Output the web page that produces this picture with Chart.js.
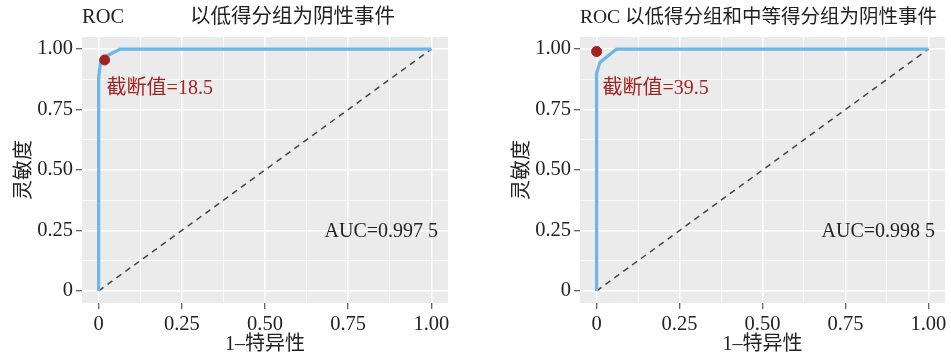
<!DOCTYPE html>
<html>
<head>
<meta charset="utf-8">
<script src="https://cdn.jsdelivr.net/npm/chart.js@4/dist/chart.umd.min.js"></script>
<style>
  body { margin: 0; background: #fff; }
  #wrap { position: relative; width: 951px; height: 361px; }
  .box { position: absolute; top: 0; height: 361px; }
</style>
</head>
<body>
<div id="wrap">
  <div class="box" style="left:0;width:460px"><canvas id="rocLow"></canvas></div>
  <div class="box" style="left:498px;width:453px"><canvas id="rocMid"></canvas></div>
</div>
<script>
// grid / tick values (majors get labels, minors only grid)
const tickValues = [0, 0.125, 0.25, 0.375, 0.5, 0.625, 0.75, 0.875, 1];
const majorTicks = [0, 0.25, 0.5, 0.75, 1];

// reference diagonal
const diagX = [0, 1];
const diagY = [0, 1];

// low score group as negative
const fprLow = [0, 0, 0.005, 0.015, 0.065, 1];
const tprLow = [0, 0.88, 0.94, 0.965, 1, 1];
const cutLowX = [0.018];
const cutLowY = [0.955];

// low + middle score group as negative
const fprMid = [0, 0, 0.01, 0.06, 1];
const tprMid = [0, 0.9, 0.945, 1, 1];
const cutMidX = [0];
const cutMidY = [0.99];

const SERIF = '"Liberation Serif", "Noto Sans CJK SC", serif';
const pts = (xs, ys) => xs.map((x, i) => ({x: x, y: ys[i]}));
const isMajor = v => majorTicks.some(m => Math.abs(m - v) < 1e-9);
const fmt = v => v === 0 ? '0' : v.toFixed(2);

// grey panel + texts
const panelPlugin = {
  id: 'panel',
  beforeDraw(chart) {
    const a = chart.chartArea, c = chart.ctx;
    c.save();
    c.fillStyle = '#ebebeb';
    c.fillRect(a.left, a.top, a.right - a.left, a.bottom - a.top);
    c.restore();
  },
  afterDraw(chart, args, o) {
    const c = chart.ctx, xs = chart.scales.x, ys = chart.scales.y;
    c.save();
    c.textBaseline = 'middle';
    // titles
    c.fillStyle = '#222';
    o.titles.forEach(t => {
      c.font = t.size + 'px ' + SERIF;
      c.textAlign = 'left';
      c.fillText(t.text, t.x, 18);
    });
    // cutoff label
    c.font = '20px ' + SERIF;
    c.fillStyle = '#a3241f';
    c.textAlign = 'left';
    c.fillText(o.cutText, xs.getPixelForValue(o.cutPos[0]), ys.getPixelForValue(o.cutPos[1]));
    // AUC
    c.font = '20px ' + SERIF;
    c.fillStyle = '#222';
    c.textAlign = 'right';
    c.fillText(o.aucText, xs.getPixelForValue(o.aucPos[0]), ys.getPixelForValue(o.aucPos[1]));
    c.restore();
  }
};

function axis(title, horizontal) {
  return {
    type: 'linear',
    min: -0.05,
    max: 1.05,
    afterBuildTicks: s => { s.ticks = tickValues.map(v => ({value: v})); },
    afterFit: s => { if (horizontal) s.height = 58; else s.width = 82; },
    border: { display: false },
    grid: {
      color: '#ffffff',
      lineWidth: ctx => isMajor(ctx.tick.value) ? 1.5 : 0.7,
      tickColor: ctx => isMajor(ctx.tick.value) ? '#333' : 'rgba(0,0,0,0)',
      tickLength: 6,
      tickWidth: 1
    },
    ticks: {
      autoSkip: false,
      maxRotation: 0,
      padding: 3,
      color: '#222',
      font: { family: SERIF, size: 20.5 },
      callback: v => isMajor(v) ? fmt(v) : ''
    },
    title: {
      display: true,
      text: title,
      color: '#222',
      font: { family: SERIF, size: 20 },
      padding: horizontal ? { top: 0, bottom: 4 } : { top: 13, bottom: 0 }
    }
  };
}

function makeChart(id, fpr, tpr, cx, cy, opts, padRight) {
  return new Chart(document.getElementById(id), {
    type: 'scatter',
    data: {
      datasets: [
        {
          data: pts(cx, cy),
          pointRadius: 5,
          pointBackgroundColor: '#a3211e',
          pointBorderColor: '#a3211e',
          showLine: false
        },
        {
          data: pts(fpr, tpr),
          showLine: true,
          borderColor: '#6db6e6',
          borderWidth: 3.2,
          pointRadius: 0,
          tension: 0
        },
        {
          data: pts(diagX, diagY),
          showLine: true,
          borderColor: '#444',
          borderWidth: 1.5,
          borderDash: [6, 5],
          pointRadius: 0
        }
      ]
    },
    options: {
      responsive: true,
      maintainAspectRatio: false,
      animation: false,
      layout: { padding: { top: 37, right: padRight, left: 0, bottom: 0 } },
      plugins: {
        legend: { display: false },
        tooltip: { enabled: false },
        panel: opts
      },
      scales: {
        x: axis('1–特异性', true),
        y: axis('灵敏度', false)
      }
    },
    plugins: [panelPlugin]
  });
}

makeChart('rocLow', fprLow, tprLow, cutLowX, cutLowY, {
  titles: [{text: 'ROC', x: 82, size: 20.5}, {text: '以低得分组为阴性事件', x: 190, size: 20.5}],
  cutText: '截断值=18.5', cutPos: [0.024, 0.835],
  aucText: 'AUC=0.997 5', aucPos: [1.02, 0.243]
}, 12);

makeChart('rocMid', fprMid, tprMid, cutMidX, cutMidY, {
  titles: [{text: 'ROC 以低得分组和中等得分组为阴性事件', x: 82, size: 19.5}],
  cutText: '截断值=39.5', cutPos: [0.018, 0.835],
  aucText: 'AUC=0.998 5', aucPos: [1.02, 0.243]
}, 5);
</script>
</body>
</html>
